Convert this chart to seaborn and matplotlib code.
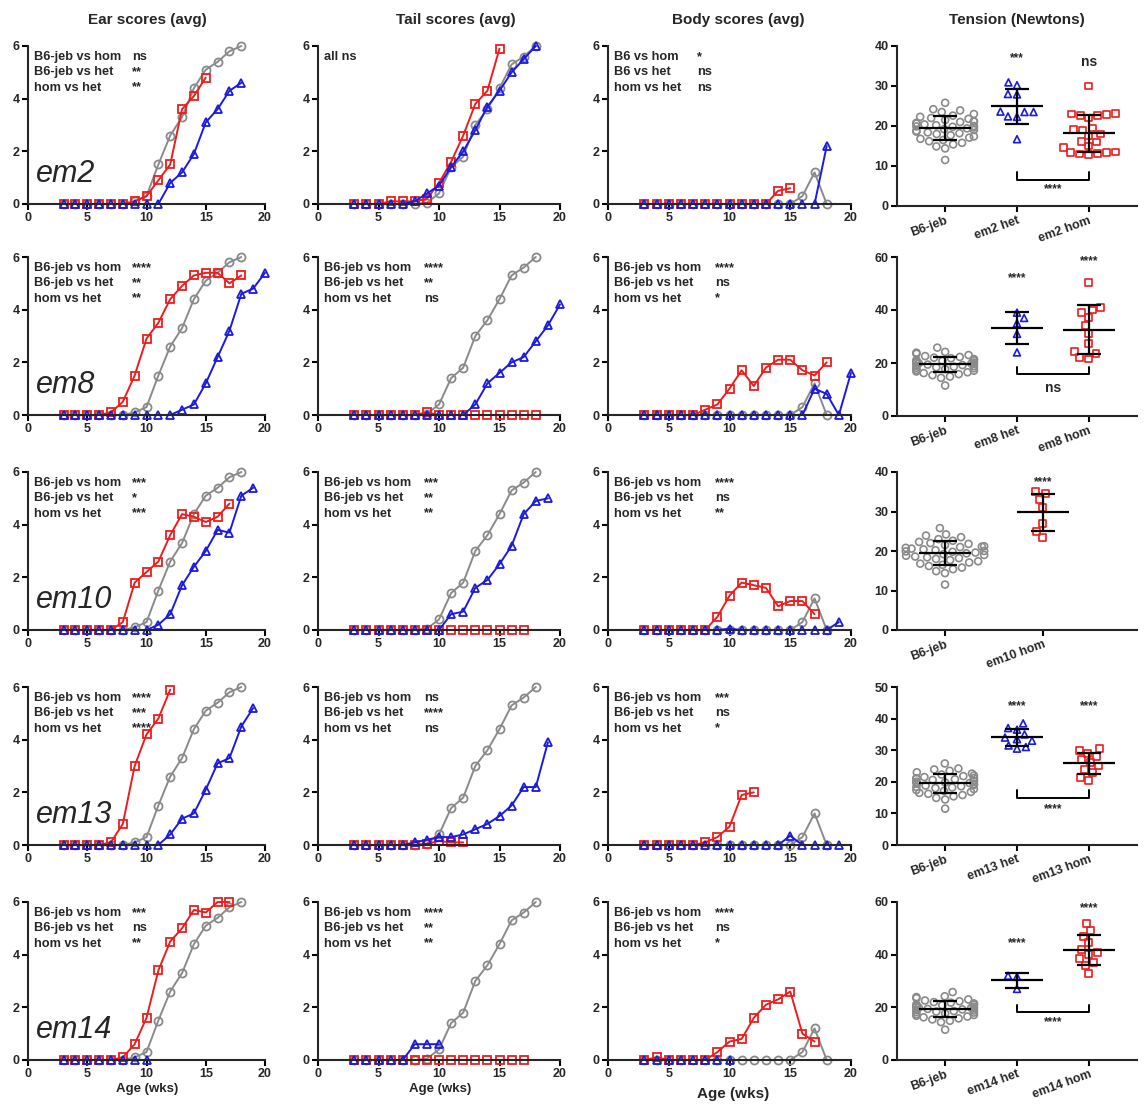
import numpy as np
import pandas as pd
import seaborn as sns
import matplotlib.pyplot as plt

# ---- scores by week (first value = week 3) ----
ear_b6 = [0, 0, 0, 0, 0, 0, 0.1, 0.3, 1.5, 2.6, 3.3, 4.4, 5.1, 5.4, 5.8, 6.0]
tail_b6 = [0, 0, 0, 0, 0, 0, 0.05, 0.4, 1.4, 1.8, 3.0, 3.6, 4.4, 5.3, 5.6, 6.0]
body_b6 = [0, 0, 0, 0, 0, 0, 0, 0, 0, 0, 0, 0, 0, 0.3, 1.2, 0]

ear_em2_hom = [0, 0, 0, 0, 0, 0, 0.1, 0.3, 0.9, 1.5, 3.6, 4.1, 4.8]
ear_em2_het = [0, 0, 0, 0, 0, 0, 0, 0, 0, 0.8, 1.2, 1.9, 3.1, 3.6, 4.3, 4.6]
tail_em2_hom = [0, 0, 0, 0.1, 0.1, 0.1, 0.2, 0.8, 1.6, 2.6, 3.8, 4.3, 5.9]
tail_em2_het = [0, 0, 0, 0, 0, 0.1, 0.4, 0.7, 1.4, 2.0, 2.8, 3.7, 4.3, 5.0, 5.5, 6.0]
body_em2_hom = [0, 0, 0, 0, 0, 0, 0, 0, 0, 0, 0, 0.5, 0.6]
body_em2_het = [0, 0, 0, 0, 0, 0, 0, 0, 0, 0, 0, 0, 0, 0, 0, 2.2]

ear_em8_hom = [0, 0, 0, 0, 0.1, 0.5, 1.5, 2.9, 3.5, 4.4, 4.9, 5.3, 5.4, 5.4, 5.0, 5.3]
ear_em8_het = [0, 0, 0, 0, 0, 0, 0, 0, 0, 0, 0.2, 0.4, 1.2, 2.2, 3.2, 4.6, 4.8, 5.4]
tail_em8_hom = [0, 0, 0, 0, 0, 0, 0.1, 0, 0, 0, 0, 0, 0, 0, 0, 0]
tail_em8_het = [0, 0, 0, 0, 0, 0, 0, 0, 0, 0, 0.4, 1.2, 1.6, 2.0, 2.2, 2.8, 3.4, 4.2]
body_em8_hom = [0, 0, 0, 0, 0, 0.2, 0.4, 1.0, 1.7, 1.1, 1.8, 2.1, 2.1, 1.7, 1.5, 2.0]
body_em8_het = [0, 0, 0, 0, 0, 0, 0, 0, 0, 0, 0, 0, 0, 0, 1.0, 0.8, 0, 1.6]

ear_em10_hom = [0, 0, 0, 0, 0, 0.3, 1.8, 2.2, 2.6, 3.6, 4.4, 4.3, 4.1, 4.3, 4.8]
ear_em10_het = [0, 0, 0, 0, 0, 0, 0, 0, 0.2, 0.6, 1.7, 2.4, 3.0, 3.8, 3.7, 5.1, 5.4]
tail_em10_hom = [0, 0, 0, 0, 0, 0, 0, 0, 0, 0, 0, 0, 0, 0, 0]
tail_em10_het = [0, 0, 0, 0, 0, 0, 0, 0, 0.6, 0.7, 1.6, 1.9, 2.5, 3.2, 4.4, 4.9, 5.0]
body_em10_hom = [0, 0, 0, 0, 0, 0, 0.5, 1.3, 1.8, 1.7, 1.6, 0.9, 1.1, 1.1, 0.6]
body_em10_het = [0, 0, 0, 0, 0, 0, 0, 0.05, 0, 0, 0, 0, 0, 0, 0, 0, 0.3]

ear_em13_hom = [0, 0, 0, 0, 0.1, 0.8, 3.0, 4.2, 4.8, 5.9]
ear_em13_het = [0, 0, 0, 0, 0, 0, 0, 0, 0, 0.4, 1.0, 1.2, 2.1, 3.1, 3.3, 4.5, 5.2]
tail_em13_hom = [0, 0, 0, 0, 0, 0, 0.05, 0.15, 0.1, 0.1]
tail_em13_het = [0, 0, 0, 0, 0, 0.1, 0.2, 0.3, 0.3, 0.4, 0.6, 0.8, 1.1, 1.5, 2.2, 2.2, 3.9]
body_em13_hom = [0, 0, 0, 0, 0, 0.1, 0.3, 0.7, 1.9, 2.0]
body_em13_het = [0, 0, 0, 0, 0, 0, 0, 0, 0, 0, 0, 0, 0.35, 0, 0, 0, 0]

ear_em14_hom = [0, 0, 0, 0, 0, 0.1, 0.6, 1.6, 3.4, 4.5, 5.0, 5.7, 5.6, 6.0, 6.0]
ear_em14_het = [0, 0, 0, 0, 0, 0, 0, 0]
tail_em14_hom = [0, 0, 0, 0, 0, 0, 0, 0, 0, 0, 0, 0, 0, 0, 0]
tail_em14_het = [0, 0, 0, 0, 0, 0.6, 0.6, 0.6]
body_em14_hom = [0, 0.1, 0, 0, 0, 0, 0.3, 0.7, 0.8, 1.6, 2.1, 2.3, 2.6, 1.0, 0.7]
body_em14_het = [0, 0, 0, 0, 0, 0, 0, 0]

# ---- tension (Newtons) ----
tension_b6 = [25.8, 24.2, 23.9, 23.5, 23.0, 22.6, 22.3, 22.0, 21.8, 21.5, 21.2, 21.0, 20.8,
              20.6, 20.4, 20.2, 20.0, 19.8, 19.6, 19.4, 19.2, 19.0, 18.8, 18.6, 18.4, 18.2,
              18.0, 17.7, 17.4, 17.1, 16.8, 16.5, 16.2, 15.8, 15.4, 14.9, 14.4, 11.5, 21.1, 19.9]
tension_em2_het = [30.9, 30.2, 28.0, 27.9, 23.5, 23.6, 23.5, 22.3, 22.4, 16.7]
tension_em2_hom = [30.0, 23.2, 23.0, 22.8, 22.7, 22.6, 22.0, 19.5, 19.0, 19.2, 18.0, 17.5,
                   16.0, 16.2, 15.0, 14.6, 13.5, 13.3, 13.2, 13.4, 12.8, 13.0]
tension_em8_het = [39.0, 37.0, 35.0, 31.0, 24.0]
tension_em8_hom = [50.5, 41.0, 39.0, 40.0, 37.0, 34.0, 31.0, 27.5, 24.5, 23.5, 21.5, 22.0]
tension_em10_hom = [35.0, 34.5, 33.0, 31.0, 27.0, 25.0, 23.5]
tension_em13_het = [38.5, 37.0, 36.5, 35.0, 34.0, 33.5, 33.0, 31.5, 31.0, 30.5]
tension_em13_hom = [30.5, 30.0, 29.0, 28.0, 27.0, 26.0, 25.0, 24.0, 23.0, 21.5, 20.5]
tension_em14_het = [32.0, 31.6, 27.0]
tension_em14_hom = [52.0, 49.0, 47.0, 44.5, 42.0, 41.0, 40.0, 38.5, 37.0, 36.0, 33.0]

lines = ["em2", "em8", "em10", "em13", "em14"]
comparisons = ["B6-jeb vs hom", "B6-jeb vs het", "hom vs het"]
ear_stars = [["ns", "**", "**"], ["****", "**", "**"], ["***", "*", "***"],
             ["****", "***", "****"], ["***", "ns", "**"]]
tail_stars = [None, ["****", "**", "ns"], ["***", "**", "**"],
              ["ns", "****", "ns"], ["****", "**", "**"]]
body_stars = [["*", "ns", "ns"], ["****", "ns", "*"], ["****", "ns", "**"],
              ["***", "ns", "*"], ["****", "ns", "*"]]

GRAY = "#8a8a8a"
RED = "#ee1c1c"
BLUE = "#1a1ae0"

sns.set_theme(style="ticks")
plt.rcParams['font.family'] = ['Liberation Sans', 'DejaVu Sans']
plt.rcParams['axes.linewidth'] = 1.5

W, H = 1144, 1104
fig = plt.figure(figsize=(W / 100, H / 100), dpi=100)


def box(l, r, t, b):
    return [l / W, 1 - b / H, (r - l) / W, (b - t) / H]


def style_axis(ax):
    sns.despine(ax=ax)
    ax.tick_params(axis='both', labelsize=9, width=1.5, length=4, color='black', pad=2)
    for lab in ax.get_xticklabels() + ax.get_yticklabels():
        lab.set_fontweight('bold')
    ax.set_xlabel('')
    ax.set_ylabel('')


def score_panel(ax, b6, hom, het, stars, labels=comparisons, star_x=8.8, tag=None):
    for vals, col, mk, ms in [(b6, GRAY, 'o', 5.8), (hom, RED, 's', 5.3), (het, BLUE, '^', 5.8)]:
        wk = np.arange(3, 3 + len(vals))
        sns.lineplot(x=wk, y=vals, ax=ax, color=col, marker=mk, markersize=ms,
                     markerfacecolor='none', markeredgecolor=col, markeredgewidth=1.3,
                     linewidth=1.4, errorbar=None, clip_on=False)
    ax.set_xlim(0, 20)
    ax.set_ylim(0, 6)
    ax.set_xticks([0, 5, 10, 15, 20])
    ax.set_yticks([0, 2, 4, 6])
    style_axis(ax)
    if stars is None:
        ax.text(0.5, 5.58, "all ns", fontsize=9.2, fontweight='bold', va='center')
    else:
        for k in range(3):
            y = 5.58 - 0.58 * k
            ax.text(0.5, y, labels[k], fontsize=9.2, fontweight='bold', va='center')
            ax.text(star_x, y, stars[k], fontsize=9.2, fontweight='bold', va='center')
    if tag:
        ax.text(0.7, 0.85, tag, fontsize=22, style='italic', fontweight='normal', va='baseline')


def tension_panel(ax, groups, values, colors, markers, ylim, yticks, xlim,
                  top_stars, bracket=None):
    df = pd.DataFrame({
        'group': [g for g, v in zip(groups, values) for _ in v],
        'value': [x for v in values for x in v],
    })
    for g, col, mk in zip(groups, colors, markers):
        sub = df[df['group'] == g]
        sns.swarmplot(data=sub, x='group', y='value', order=groups, ax=ax, color=col,
                      marker=mk, size=5, linewidth=1.2, edgecolor=col, warn_thresh=1)
    for c in ax.collections:
        c.set_facecolor('none')
    ax.set_xlim(*xlim)
    ax.set_ylim(*ylim)
    ax.set_yticks(yticks)
    ax.set_xticks(range(len(groups)))
    ax.set_xticklabels(groups, rotation=20, ha='right', rotation_mode='anchor')
    style_axis(ax)
    px_per_unit = (ax.get_position().width * W) / (xlim[1] - xlim[0])
    hw = 26 / px_per_unit
    cw = 12 / px_per_unit
    for i, v in enumerate(values):
        m = np.mean(v)
        s = np.std(v, ddof=1)
        ax.hlines(m, i - hw, i + hw, color='black', lw=1.6, zorder=5)
        ax.hlines([m - s, m + s], i - cw, i + cw, color='black', lw=1.6, zorder=5)
        ax.vlines(i, m - s, m + s, color='black', lw=1.6, zorder=5)
    for i, (txt, y) in top_stars.items():
        ax.text(i, y, txt, ha='center', va='center', fontweight='bold',
                fontsize=10 if txt == 'ns' else 8.5)
    if bracket:
        base, arm, txt, off = bracket
        ax.plot([1, 1, 2, 2], [arm, base, base, arm], color='black', lw=1.4)
        ax.annotate(txt, xy=(1.5, base), xytext=(0, off), textcoords='offset points',
                    ha='center', va='top', fontweight='bold',
                    fontsize=10 if txt == 'ns' else 8.5)


row_tops = [46, 257, 472, 687, 902]
ear_data = [(ear_em2_hom, ear_em2_het), (ear_em8_hom, ear_em8_het), (ear_em10_hom, ear_em10_het),
            (ear_em13_hom, ear_em13_het), (ear_em14_hom, ear_em14_het)]
tail_data = [(tail_em2_hom, tail_em2_het), (tail_em8_hom, tail_em8_het),
             (tail_em10_hom, tail_em10_het), (tail_em13_hom, tail_em13_het),
             (tail_em14_hom, tail_em14_het)]
body_data = [(body_em2_hom, body_em2_het), (body_em8_hom, body_em8_het),
             (body_em10_hom, body_em10_het), (body_em13_hom, body_em13_het),
             (body_em14_hom, body_em14_het)]

for r, top in enumerate(row_tops):
    bottom = top + 158
    ax = fig.add_axes(box(28, 265, top, bottom))
    score_panel(ax, ear_b6, ear_data[r][0], ear_data[r][1], ear_stars[r], tag=lines[r])
    ax = fig.add_axes(box(318, 560, top, bottom))
    score_panel(ax, tail_b6, tail_data[r][0], tail_data[r][1], tail_stars[r])
    ax = fig.add_axes(box(608, 851, top, bottom))
    if r == 0:
        score_panel(ax, body_b6, body_data[r][0], body_data[r][1], body_stars[r],
                    labels=["B6 vs hom", "B6 vs het", "hom vs het"], star_x=7.3)
    else:
        score_panel(ax, body_b6, body_data[r][0], body_data[r][1], body_stars[r])

three = (-0.67, 2.67)
ax = fig.add_axes(box(897, 1137, 46, 206))
tension_panel(ax, ["B6-jeb", "em2 het", "em2 hom"],
              [tension_b6, tension_em2_het, tension_em2_hom],
              [GRAY, BLUE, RED], ['o', '^', 's'], (0, 40), [0, 10, 20, 30, 40], three,
              {1: ("***", 37), 2: ("ns", 36)}, bracket=(6.5, 8.5, "****", -2))
ax = fig.add_axes(box(897, 1137, 257, 416))
tension_panel(ax, ["B6-jeb", "em8 het", "em8 hom"],
              [tension_b6, tension_em8_het, tension_em8_hom],
              [GRAY, BLUE, RED], ['o', '^', 's'], (0, 60), [0, 20, 40, 60], three,
              {1: ("****", 52), 2: ("****", 58.5)}, bracket=(15.8, 18.5, "ns", -5))
ax = fig.add_axes(box(897, 1137, 472, 630))
tension_panel(ax, ["B6-jeb", "em10 hom"],
              [tension_b6, tension_em10_hom],
              [GRAY, RED], ['o', 's'], (0, 40), [0, 10, 20, 30, 40], (-0.49, 1.96),
              {1: ("****", 37.5)})
ax = fig.add_axes(box(897, 1137, 687, 845))
tension_panel(ax, ["B6-jeb", "em13 het", "em13 hom"],
              [tension_b6, tension_em13_het, tension_em13_hom],
              [GRAY, BLUE, RED], ['o', '^', 's'], (0, 50), [0, 10, 20, 30, 40, 50], three,
              {1: ("****", 44), 2: ("****", 44)}, bracket=(15, 17.5, "****", -4))
ax = fig.add_axes(box(897, 1137, 902, 1060))
tension_panel(ax, ["B6-jeb", "em14 het", "em14 hom"],
              [tension_b6, tension_em14_het, tension_em14_hom],
              [GRAY, BLUE, RED], ['o', '^', 's'], (0, 60), [0, 20, 40, 60], three,
              {1: ("****", 44.5), 2: ("****", 57.7)}, bracket=(18.2, 20.8, "****", -3))

# column titles and axis labels
for x, title in [(147, "Ear scores (avg)"), (456, "Tail scores (avg)"),
                 (738, "Body scores (avg)"), (1017, "Tension (Newtons)")]:
    fig.text(x / W, 1 - 20 / H, title, ha='center', va='center', fontsize=11, fontweight='bold')
fig.text(147 / W, 1 - 1089 / H, "Age (wks)", ha='center', va='center', fontsize=9.5, fontweight='bold')
fig.text(440 / W, 1 - 1089 / H, "Age (wks)", ha='center', va='center', fontsize=9.5, fontweight='bold')
fig.text(733 / W, 1 - 1094 / H, "Age (wks)", ha='center', va='center', fontsize=11, fontweight='bold')

fig.savefig("out.png", dpi=100)
